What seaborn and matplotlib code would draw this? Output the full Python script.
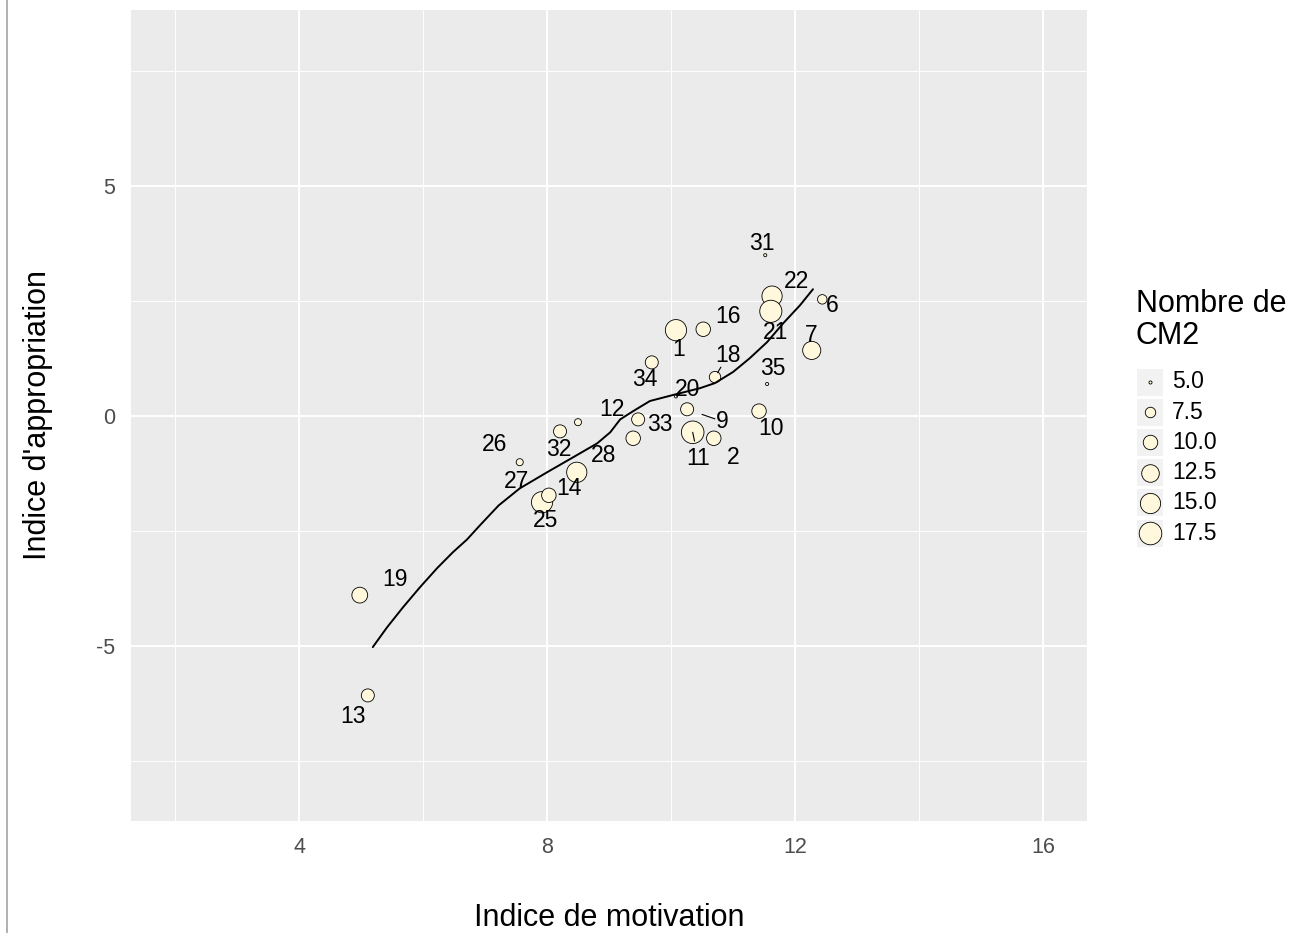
import matplotlib
matplotlib.use("Agg")
import matplotlib.pyplot as plt
from matplotlib.lines import Line2D
from matplotlib.patches import Rectangle
import numpy as np
import pandas as pd
import seaborn as sns

# ---------------- data ----------------
labels = ["13", "19", "25", "27", "14", "26", "32", "12", "28", "33", "20", "9", "11",
          "2", "10", "35", "34", "1", "16", "18", "31", "22", "21", "6", "7"]
motivation = [5.11, 4.98, 7.92, 8.03, 8.48, 7.56, 8.21, 8.50, 9.39, 9.47, 10.08, 10.26, 10.35,
              10.69, 11.42, 11.55, 9.69, 10.08, 10.52, 10.71, 11.52, 11.63, 11.61, 12.44, 12.27]
appropriation = [-6.07, -3.89, -1.87, -1.72, -1.22, -1.00, -0.33, -0.13, -0.48, -0.07, 0.43, 0.15, -0.35,
                 -0.48, 0.11, 0.70, 1.17, 1.87, 1.89, 0.85, 3.50, 2.61, 2.28, 2.54, 1.43]
nb_cm2 = [9, 11, 16, 10, 15, 6, 9, 6, 10, 9, 5, 9, 18,
          10, 10, 5, 9, 16, 10, 8, 5, 15, 17, 7, 13]

# label anchor positions (repelled text positions)
label_x = [4.87, 5.55, 7.97, 7.50, 8.35, 7.16, 8.19, 9.05, 8.92, 9.82, 10.26, 10.82, 10.44,
           11.00, 11.61, 11.65, 9.58, 10.13, 10.92, 10.92, 11.47, 12.03, 11.69, 12.60, 12.26]
label_y = [-6.52, -3.54, -2.26, -1.41, -1.57, -0.61, -0.72, 0.15, -0.85, -0.17, 0.57, -0.11, -0.93,
           -0.89, -0.26, 1.04, 0.80, 1.46, 2.17, 1.33, 3.76, 2.93, 1.83, 2.41, 1.76]

# smoothed trend
smooth_x = [5.19, 5.42, 5.68, 5.95, 6.23, 6.48, 6.71, 6.92, 7.22, 7.56, 8.00, 8.40, 8.81, 9.02,
            9.18, 9.39, 9.66, 10.03, 10.47, 10.71, 11.00, 11.27, 11.55, 11.81, 12.08, 12.29]
smooth_y = [-5.02, -4.59, -4.15, -3.72, -3.30, -2.96, -2.68, -2.37, -1.94, -1.57, -1.22, -0.91,
            -0.59, -0.35, -0.07, 0.11, 0.33, 0.46, 0.61, 0.72, 0.96, 1.26, 1.61, 2.02, 2.41, 2.76]

legend_values = [5.0, 7.5, 10.0, 12.5, 15.0, 17.5]
legend_texts = ["5.0", "7.5", "10.0", "12.5", "15.0", "17.5"]
x_ticks = [4, 8, 12, 16]
y_ticks = [-5, 0, 5]
y_tick_labels = ["-5", "0", "5"]

# ---------------- style ----------------
sns.set_theme(style="darkgrid")
plt.rcParams["font.family"] = ["Liberation Sans", "DejaVu Sans"]
plt.rcParams["axes.unicode_minus"] = False

FILL = "#FFF8DC"
SIZE_RANGE = (5.0, 264.0)
SIZE_NORM = (5.0, 17.5)

W, H = 1306, 933
fig = plt.figure(figsize=(W / 100, H / 100), dpi=100)
fig.patch.set_facecolor("white")

ax = fig.add_axes([131 / W, 112 / H, 956 / W, 811 / H])
ax.set_facecolor("#EBEBEB")

df = pd.DataFrame({"x": motivation, "y": appropriation, "n": nb_cm2, "lab": labels,
                   "lx": label_x, "ly": label_y})

sns.scatterplot(data=df, x="x", y="y", size="n", sizes=SIZE_RANGE, size_norm=SIZE_NORM,
                color=FILL, edgecolor="black", linewidth=0.6, legend=False, ax=ax, zorder=3)

smooth = pd.DataFrame({"x": smooth_x, "y": smooth_y})
sns.lineplot(data=smooth, x="x", y="y", color="black", linewidth=1.4, ax=ax, zorder=4,
             sort=False)

# repel segments (fraction along point -> label)
seg_frac = {"9": (0.43, 0.80), "11": (0.0, 0.33), "18": (0.2, 0.45), "20": (0.05, 0.35)}
for _, r in df.iterrows():
    ax.text(r["lx"], r["ly"], r["lab"], ha="center", va="center", fontsize=16.5,
            color="black", zorder=6)
    if r["lab"] in seg_frac:
        a, b = seg_frac[r["lab"]]
        dx, dy = r["lx"] - r["x"], r["ly"] - r["y"]
        ax.plot([r["x"] + a * dx, r["x"] + b * dx], [r["y"] + a * dy, r["y"] + b * dy],
                color="black", lw=0.8, zorder=5)

ax.set_xlim(1.29, 16.71)
ax.set_ylim(-8.8, 8.83)
ax.set_xticks(x_ticks)
ax.set_xticklabels([str(t) for t in x_ticks])
ax.set_xticks([2, 6, 10, 14], minor=True)
ax.set_yticks(y_ticks)
ax.set_yticklabels(y_tick_labels)
ax.set_yticks([-7.5, -2.5, 2.5, 7.5], minor=True)
ax.grid(which="major", color="white", linewidth=1.4)
ax.grid(which="minor", color="white", linewidth=0.7)
ax.set_axisbelow(True)
ax.tick_params(which="major", length=3.3, width=1.0, color="#333333", labelcolor="#4D4D4D",
               labelsize=15.5)
ax.tick_params(axis="x", which="major", pad=8)
ax.tick_params(axis="y", which="major", pad=8)
ax.tick_params(which="minor", length=0)
for s in ax.spines.values():
    s.set_visible(False)

ax.set_xlabel("Indice de motivation", fontsize=22, color="black")
ax.set_ylabel("Indice d'appropriation", fontsize=22, color="black")
ax.xaxis.set_label_coords(0.5, (821 - 918) / 811)
ax.xaxis.label.set_va("center")
ax.yaxis.set_label_coords((38 - 131) / 956, 0.5)
ax.yaxis.label.set_va("center")

# ---------------- legend (custom, pixel coordinates) ----------------
lx0, lx1, ly0, ly1 = 1120, 1306, 270, 560
lax = fig.add_axes([lx0 / W, (H - ly1) / H, (lx1 - lx0) / W, (ly1 - ly0) / H])
lax.set_xlim(lx0, lx1)
lax.set_ylim(ly1, ly0)
lax.axis("off")
lax.text(1136, 320, "Nombre de\nCM2", ha="left", va="center", fontsize=22,
         linespacing=1.12, color="black")
key_y0, key_dy = 382, 30.2
for i, (v, t) in enumerate(zip(legend_values, legend_texts)):
    cy = key_y0 + i * key_dy
    lax.add_patch(Rectangle((1137, cy - 13.5), 26, 27, facecolor="#F2F2F2", edgecolor="none"))
    s = SIZE_RANGE[0] + (v - SIZE_NORM[0]) / (SIZE_NORM[1] - SIZE_NORM[0]) * (SIZE_RANGE[1] - SIZE_RANGE[0])
    lax.scatter([1150], [cy], s=s, color=FILL, edgecolor="black", linewidth=0.6, zorder=3)
    lax.text(1172, cy, t, ha="left", va="center", fontsize=16.5, color="black")

# left border line of the screenshot
fig.add_artist(Line2D([7 / W, 7 / W], [0, 1], color="#AAAAAA", lw=1.3))

fig.savefig("out.png", dpi=100)
